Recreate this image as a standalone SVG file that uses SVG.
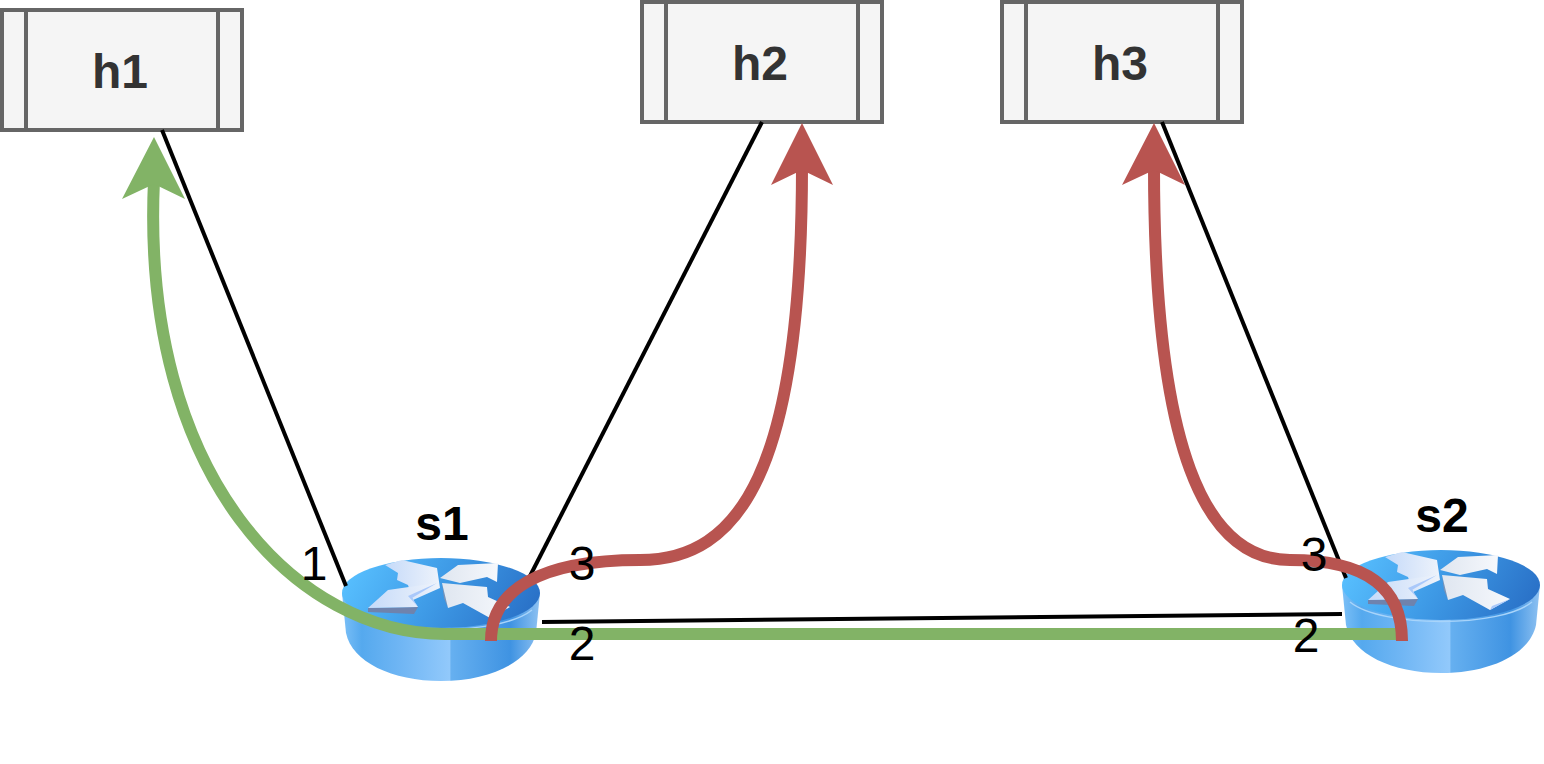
<svg xmlns="http://www.w3.org/2000/svg" width="1544" height="764" viewBox="0 0 1544 764">
<style>
.host{fill:#f5f5f5;stroke:#666;stroke-width:4}
.hl{font:bold 48px "Liberation Sans",Arial,sans-serif;fill:#333;text-anchor:middle}
.sl{font:bold 48px "Liberation Sans",Arial,sans-serif;fill:#000;text-anchor:middle}
.pl{font:48px "Liberation Sans",Arial,sans-serif;fill:#000;text-anchor:middle}
.link{stroke:#000;stroke-width:4;fill:none}
.g{stroke:#82b366;stroke-width:12;fill:none}
.r{stroke:#b85450;stroke-width:12;fill:none}
</style>
<defs>
<linearGradient id="side" x1="0" x2="1" y1="0" y2="0">
<stop offset="0" stop-color="#7cc0f7"/><stop offset=".1" stop-color="#55a9ee"/><stop offset=".3" stop-color="#70b6f4"/><stop offset=".545" stop-color="#92c9fb"/><stop offset=".55" stop-color="#66b0f0"/><stop offset=".85" stop-color="#3f93e2"/><stop offset="1" stop-color="#8fc2f2"/>
</linearGradient>
<linearGradient id="top" x1="0" x2="1" y1="0.3" y2="0.5">
<stop offset="0" stop-color="#58c0ff"/><stop offset=".5" stop-color="#3e9ae6"/><stop offset="1" stop-color="#2a72c8"/>
</linearGradient>
<linearGradient id="arw" x1="0" x2="1" y1="0" y2="0">
<stop offset="0" stop-color="#c5daf9"/><stop offset="1" stop-color="#eef3fb"/>
</linearGradient>
<linearGradient id="arw2" x1="0" x2="1" y1="0" y2="0">
<stop offset="0" stop-color="#dfe6f0"/><stop offset="1" stop-color="#f6f8fc"/>
</linearGradient>
<g id="router">
<path d="M0 35L4 75C10 104 50 123 99 123C148 123 188 104 194 75L198 35Z" fill="url(#side)"/>
<ellipse cx="99" cy="35" rx="99" ry="35" fill="url(#top)"/>
<path d="M8 52C40 78 158 78 190 52" fill="none" stroke="#a8d4fa" stroke-width="1.5"/>
<path d="M26 50L76 49L72 56L26 54Z" fill="#6f83ad"/>
<path d="M100 25L106 50L102 40Z" fill="#7f92b2"/>
<g fill="url(#arw)">
<path d="M43 7L60 2L95 10L98 30L71 42L66 27L55 22L56 15Z"/>
<path d="M26 50L46 32L95 25L70 40L76 49Z"/>
</g>
<g fill="url(#arw2)">
<path d="M116 7L156 5L155 24L145 19L118 25L98 20Z"/>
<path d="M100 25L145 29L146 39L168 49L148 60L121 45L106 50Z"/>
</g>
<path d="M95 25L70 40L76 49L66 38Z" fill="#a9c8fa"/>
<path d="M168 49L148 60L150 56Z" fill="#a9c8fa"/>
</g>
<g id="hostbox">
<rect class="host" x="2" y="2" width="240" height="120"/>
<path d="M26 2V122M218 2V122" fill="none" stroke="#666" stroke-width="4"/>
</g>
</defs>
<g id="h1"><use href="#hostbox" x="0" y="8"/><text class="hl" x="120" y="88">h1</text></g>
<g id="h2"><use href="#hostbox" x="640" y="0"/><text class="hl" x="760" y="80">h2</text></g>
<g id="h3"><use href="#hostbox" x="1000" y="0"/><text class="hl" x="1120" y="80">h3</text></g>
<g id="s1"><use href="#router" x="342" y="558"/><text class="sl" x="442" y="540">s1</text></g>
<g id="s2"><use href="#router" x="1342" y="550"/><text class="sl" x="1442" y="532">s2</text></g>
<g id="connectors">
<path class="link" d="M162 130L346 586"/>
<path class="link" d="M762 122L530 576"/>
<path class="link" d="M1162 122L1346 578"/>
<path class="link" d="M542 622L1342 614"/>
<path class="g" d="M1400 634H445C300 634 140 480 154 180"/>
<polygon fill="#82b366" points="154,137 185,199 154,184 122,199"/>
<path class="r" d="M491 641C491 590 540 560 640 560C740 560 802 470 802 166"/>
<polygon fill="#b85450" points="802,123 833,185 802,170 771,185"/>
<path class="r" d="M1402 641C1402 590 1370 560 1290 560C1205 560 1154 450 1154 166"/>
<polygon fill="#b85450" points="1154,123 1185,185 1154,170 1122,185"/>
</g>
<g id="labels">
<text class="pl" x="314" y="580">1</text>
<text class="pl" x="582" y="580">3</text>
<text class="pl" x="582" y="660">2</text>
<text class="pl" x="1314" y="571">3</text>
<text class="pl" x="1306" y="652">2</text>
</g>
</svg>
